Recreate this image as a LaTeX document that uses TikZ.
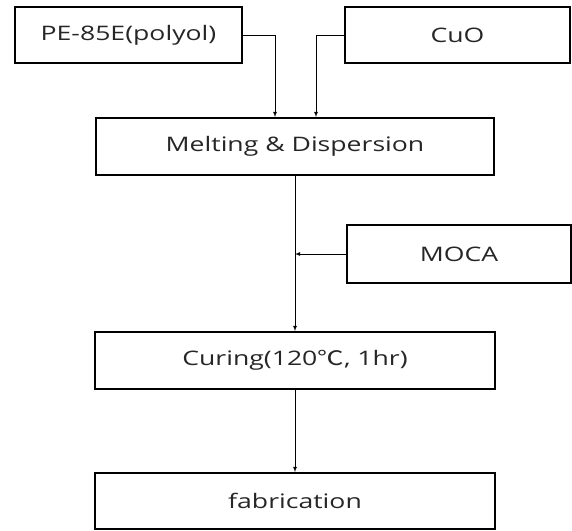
\documentclass[tikz,border=0pt]{standalone}
\usepackage{graphicx}
\usepackage{fontspec}
\setmainfont{Open Sans}
\newfontfamily\krfont{Noto Sans CJK KR}
\usetikzlibrary{calc,positioning}
\newcommand{\widetxt}[1]{\scalebox{1.33}[1]{#1}}
\tikzset{
  stepbox/.style={draw,line width=2pt,inner sep=0pt,text=black!85,font=\fontsize{20}{24}\selectfont},
  flow/.style={-latex,line width=0.8pt}
}
\begin{document}
\begin{tikzpicture}[x=1pt,y=-1pt]
		\useasboundingbox (0,0) rectangle (572,530);
		\node[stepbox,minimum width=227pt,minimum height=56pt] (polyol) at (128.5,35) {\widetxt{PE-85E(polyol)}};
		\node[stepbox,minimum width=225pt,minimum height=56pt] (cuo) at (457.5,35) {\widetxt{CuO}};
		\node[stepbox,minimum width=398pt,minimum height=57pt] (melt) at (295,146.5) {\widetxt{Melting \& Dispersion}};
		\node[stepbox,minimum width=224pt,minimum height=58pt] (moca) at (459,254) {\widetxt{MOCA}};
		\node[stepbox,minimum width=400pt,minimum height=57pt] (cure) at (295,360.5) {\widetxt{Curing(120{\krfont ℃}, 1hr)}};
		\node[stepbox,minimum width=400pt,minimum height=56pt] (fab) at (295,501) {\widetxt{fabrication}};
		\draw[flow] (polyol.east) -| ($(melt.north)+(-20,0)$);
		\draw[flow] (cuo.west) -| ($(melt.north)+(21,0)$);
		\draw[flow] (melt.south) -- (cure.north);
		\draw[flow] (moca.west) -- (moca.west -| melt.south);
		\draw[flow] (cure.south) -- (fab.north);
	\end{tikzpicture}
\end{document}
